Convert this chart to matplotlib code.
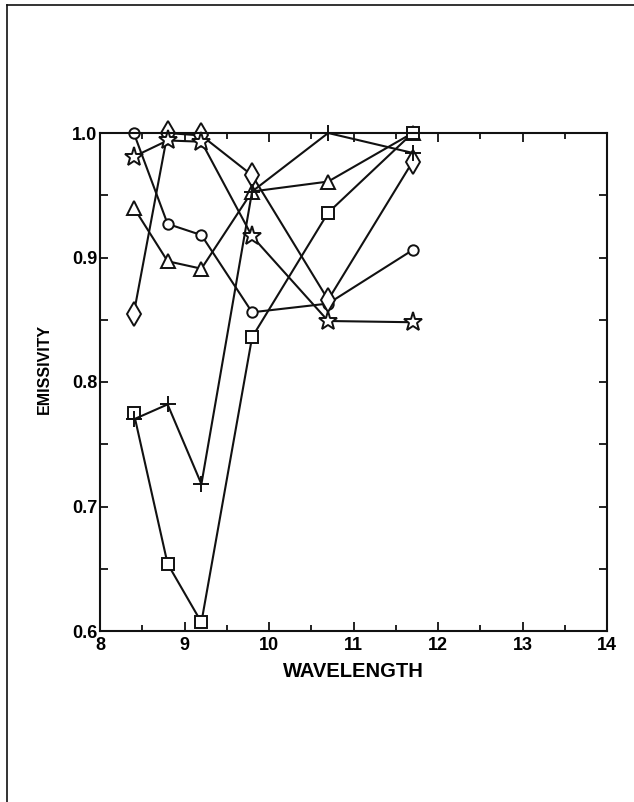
import matplotlib
matplotlib.use("Agg")
import matplotlib.pyplot as plt
from matplotlib.ticker import MultipleLocator
from matplotlib.lines import Line2D

# Wavelength sampling points (micrometres)
wavelength = [8.4, 8.8, 9.2, 9.8, 10.7, 11.7]

# Emissivity per sample
circle_vals = [1.000, 0.927, 0.918, 0.856, 0.863, 0.906]
diamond_vals = [0.855, 1.000, 0.998, 0.966, 0.866, 0.977]
triangle_vals = [0.940, 0.897, 0.891, 0.953, 0.961, 1.000]
star_vals = [0.981, 0.994, 0.993, 0.917, 0.849, 0.848]
plus_vals = [0.770, 0.782, 0.718, 0.953, 1.000, 0.984]
square_vals = [0.775, 0.654, 0.607, 0.836, 0.936, 1.000]

x_ticks = [8, 9, 10, 11, 12, 13, 14]
y_ticks = [0.6, 0.7, 0.8, 0.9, 1.0]

plt.rcParams["font.family"] = ["Liberation Sans", "DejaVu Sans"]
plt.rcParams["font.weight"] = "bold"

ink = "#111111"
fig = plt.figure(figsize=(6.34, 8.02), dpi=100)

# page border (top and left edges)
fig.add_artist(Line2D([7 / 634, 1.0], [1 - 4.5 / 802, 1 - 4.5 / 802],
                      transform=fig.transFigure, color=ink, lw=1.2))
fig.add_artist(Line2D([7 / 634, 7 / 634], [0.0, 1 - 4.5 / 802],
                      transform=fig.transFigure, color=ink, lw=1.2))

ax = fig.add_axes([100 / 634, 171 / 802, 507 / 634, 498 / 802])

series = [
    (circle_vals, dict(marker="o", ms=7.5)),
    (diamond_vals, dict(marker="d", ms=12)),
    (triangle_vals, dict(marker="^", ms=9.5)),
    (star_vals, dict(marker="*", ms=14)),
    (square_vals, dict(marker="s", ms=8.5)),
    (plus_vals, dict(marker="+", ms=11)),
]
for vals, style in series:
    ax.plot(wavelength, vals, color=ink, lw=1.5, mfc="white", mec=ink,
            mew=1.4, clip_on=False, **style)

ax.set_xlim(8, 14)
ax.set_ylim(0.6, 1.0)
ax.set_xticks(x_ticks)
ax.set_yticks(y_ticks)
ax.set_xticklabels([str(v) for v in x_ticks])
ax.set_yticklabels([f"{v:.1f}" for v in y_ticks])
ax.xaxis.set_minor_locator(MultipleLocator(0.5))
ax.yaxis.set_minor_locator(MultipleLocator(0.05))

ax.tick_params(which="both", direction="in", top=True, right=True,
               color=ink, width=1.3)
ax.tick_params(axis="x", which="major", length=6.5, labelsize=13, pad=4.5)
ax.tick_params(axis="x", which="minor", length=4)
ax.tick_params(axis="y", which="both", length=5.5, labelsize=13, pad=2)
for lab in ax.get_xticklabels() + ax.get_yticklabels():
    lab.set_fontweight("bold")

for sp in ax.spines.values():
    sp.set_linewidth(1.5)
    sp.set_color(ink)

ax.set_xlabel("WAVELENGTH", fontsize=14.5, fontweight="bold", labelpad=5.5)
ax.set_ylabel("EMISSIVITY", fontsize=11.5, fontweight="bold")
ax.yaxis.set_label_coords(-0.094, 0.526)

fig.savefig("out.png", dpi=100, facecolor="white")
